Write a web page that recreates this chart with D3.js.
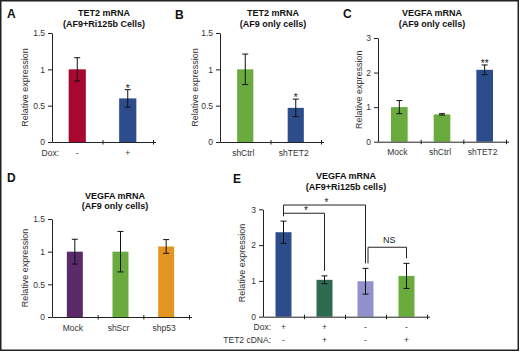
<!DOCTYPE html>
<html>
<head>
<meta charset="utf-8">
<script src="https://cdn.jsdelivr.net/npm/d3@7"></script>
<style>
body { margin: 0; background: #fff; }
svg { display: block; font-family: "Liberation Sans", Arial, sans-serif; }
</style>
</head>
<body>
<div id="chart"></div>
<script>
// ---- data ----
// A: TET2 mRNA (AF9+Ri125b Cells)
var aDox = ["-", "+"];
var aValues = [1.0, 0.60];
var aErrors = [0.16, 0.12];
var aStars = ["", "*"];
var aTicks = [0, 0.5, 1, 1.5];

// B: TET2 mRNA (AF9 only cells)
var bCats = ["shCtrl", "shTET2"];
var bValues = [1.0, 0.47];
var bErrors = [0.21, 0.12];
var bStars = ["", "*"];
var bTicks = [0, 0.5, 1, 1.5];

// C: VEGFA mRNA (AF9 only cells)
var cCats = ["Mock", "shCtrl", "shTET2"];
var cValues = [1.0, 0.79, 2.08];
var cErrors = [0.19, 0.02, 0.14];
var cStars = ["", "", "**"];
var cTicks = [0, 1, 2, 3];

// D: VEGFA mRNA (AF9 only cells)
var dCats = ["Mock", "shScr", "shp53"];
var dValues = [1.0, 1.0, 1.08];
var dErrors = [0.19, 0.31, 0.105];
var dTicks = [0, 0.5, 1, 1.5];

// E: VEGFA mRNA (AF9+Ri125b cells)
var eDox = ["+", "+", "-", "-"];
var eTet2 = ["-", "+", "-", "+"];
var eValues = [2.36, 1.03, 0.99, 1.14];
var eErrors = [0.31, 0.11, 0.36, 0.35];
var eTicks = [0, 1, 2, 3];
// brackets: bar index from/to, level in data units, label
var eBrackets = [
    { from: 0, to: 2, level: 3.12, text: "*" },
    { from: 0, to: 1, level: 2.89, text: "*" },
    { from: 2, to: 3, level: 1.94, text: "NS" }
];

var blue = "#2c4c8b", green = "#6aab3d";

var svg = d3.select("#chart").append("svg")
    .attr("width", 520)
    .attr("height", 352);

svg.append("rect")
    .attr("x", 0.75).attr("y", 0.75)
    .attr("width", 517.5).attr("height", 349.5)
    .attr("fill", "none")
    .attr("stroke", "#222")
    .attr("stroke-width", 1.5);

function drawPanel(p) {
    var g = svg.append("g");
    var n = p.values.length;

    var x = d3.scaleBand()
        .domain(d3.range(n))
        .range([p.left, p.left + p.width])
        .paddingInner(p.pad)
        .paddingOuter(p.pad / 2);

    var y = d3.scaleLinear()
        .domain(p.domain)
        .range([p.bottom, p.top]);

    // bars
    g.selectAll("rect.bar")
        .data(p.values)
        .enter().append("rect")
        .attr("class", "bar")
        .attr("x", function(d, i) { return x(i); })
        .attr("width", x.bandwidth())
        .attr("y", function(d) { return y(d); })
        .attr("height", function(d) { return y(0) - y(d); })
        .attr("fill", function(d, i) { return p.colors[i]; });

    // error bars
    var eb = g.selectAll("g.err")
        .data(p.values)
        .enter().append("g")
        .attr("class", "err")
        .attr("stroke", "#111")
        .attr("stroke-width", 1);
    var cx = function(i) { return x(i) + x.bandwidth() / 2; };
    eb.append("line")
        .attr("x1", function(d, i) { return cx(i); })
        .attr("x2", function(d, i) { return cx(i); })
        .attr("y1", function(d, i) { return y(d - p.errors[i]); })
        .attr("y2", function(d, i) { return y(d + p.errors[i]); });
    [-1, 1].forEach(function(s) {
        eb.append("line")
            .attr("x1", function(d, i) { return cx(i) - 3; })
            .attr("x2", function(d, i) { return cx(i) + 3; })
            .attr("y1", function(d, i) { return y(d + s * p.errors[i]); })
            .attr("y2", function(d, i) { return y(d + s * p.errors[i]); });
    });

    // significance stars
    if (p.stars) {
        g.selectAll("text.star")
            .data(p.stars)
            .enter().append("text")
            .attr("class", "star")
            .attr("x", function(d, i) { return cx(i); })
            .attr("y", function(d, i) { return y(p.values[i] + p.errors[i]) + 2; })
            .attr("text-anchor", "middle")
            .attr("font-size", "10px")
            .attr("fill", "#111")
            .text(function(d) { return d; });
    }

    // y axis
    var yAxis = g.append("g")
        .attr("transform", "translate(" + p.left + ",0)")
        .call(d3.axisLeft(y).tickValues(p.ticks).tickSize(4).tickSizeOuter(0).tickPadding(3)
            .tickFormat(function(d) { return d; }));
    yAxis.attr("font-family", null).attr("font-size", null).attr("color", "#222");
    yAxis.selectAll("text").attr("font-size", "8.5px").attr("fill", "#333");

    // x axis, ticks at band boundaries crossing the line
    var xb = d3.scaleLinear().domain([0, n]).range([p.left, p.left + p.width]);
    var xAxis = g.append("g")
        .attr("transform", "translate(0," + y(0) + ")")
        .call(d3.axisBottom(xb).tickValues(d3.range(1, n + 1)).tickFormat("").tickSize(4).tickSizeOuter(0));
    xAxis.attr("color", "#222");
    xAxis.selectAll(".tick line").attr("y1", -2).attr("y2", 2.5);
    xAxis.select(".domain").attr("d", "M" + (p.left + 0.5) + ",0.5H" + (p.left + p.width + 3));

    // y label
    g.append("text")
        .attr("transform", "translate(" + (p.left - p.yLabelOffset) + "," + ((p.top + p.bottom) / 2) + ") rotate(-90)")
        .attr("text-anchor", "middle")
        .attr("font-size", "9px")
        .attr("fill", "#333")
        .text("Relative expression");

    // category rows
    p.rows.forEach(function(row, r) {
        var ry = y(0) + 13.5 + r * 13;
        if (row.name) {
            g.append("text")
                .attr("x", p.rowNameX)
                .attr("y", ry)
                .attr("text-anchor", "end")
                .attr("font-size", "8.5px")
                .attr("fill", "#333")
                .text(row.name);
        }
        g.selectAll("text.cat" + r)
            .data(row.labels)
            .enter().append("text")
            .attr("class", "cat" + r)
            .attr("x", function(d, i) { return cx(i) + (row.name ? 0 : -2); })
            .attr("y", ry)
            .attr("text-anchor", "middle")
            .attr("font-size", "8.5px")
            .attr("fill", "#333")
            .text(function(d) { return d; });
    });

    // title
    p.title.forEach(function(t, i) {
        g.append("text")
            .attr("x", p.titleX)
            .attr("y", p.titleY + i * 10.5)
            .attr("text-anchor", "middle")
            .attr("font-size", "9px")
            .attr("font-weight", "bold")
            .attr("fill", "#111")
            .text(t);
    });

    // panel letter
    g.append("text")
        .attr("x", p.letterX)
        .attr("y", p.letterY)
        .attr("font-size", "12px")
        .attr("font-weight", "bold")
        .attr("fill", "#111")
        .text(p.letter);

    // brackets
    if (p.brackets) {
        var topOf = function(i) { return y(p.values[i] + p.errors[i]); };
        p.brackets.forEach(function(b) {
            var ly = y(b.level);
            var x1 = cx(b.from) + (b.text === "NS" ? 2.5 : 0);
            var x2 = cx(b.to);
            g.append("path")
                .attr("d", "M" + x1 + "," + (topOf(b.from) - 5) + "V" + ly + "H" + x2 + "V" + (topOf(b.to) - 5))
                .attr("fill", "none")
                .attr("stroke", "#222")
                .attr("stroke-width", 1);
            g.append("text")
                .attr("x", (x1 + x2) / 2 + 2)
                .attr("y", b.text === "NS" ? ly - 4 : ly + 1)
                .attr("text-anchor", "middle")
                .attr("font-size", b.text === "NS" ? "9px" : "10px")
                .attr("fill", "#222")
                .text(b.text);
        });
    }
}

drawPanel({
    letter: "A", letterX: 7, letterY: 18,
    title: ["TET2 mRNA", "(AF9+Ri125b Cells)"], titleX: 104, titleY: 16,
    left: 52, width: 101, top: 33, bottom: 142, pad: 0.66,
    domain: [0, 1.5], ticks: aTicks,
    values: aValues, errors: aErrors, stars: aStars,
    colors: ["#a8082f", blue],
    rows: [{ name: "Dox:", labels: aDox }], rowNameX: 59,
    yLabelOffset: 24
});

drawPanel({
    letter: "B", letterX: 175, letterY: 19,
    title: ["TET2 mRNA", "(AF9 only cells)"], titleX: 273, titleY: 16,
    left: 220, width: 101, top: 33, bottom: 142, pad: 0.68,
    domain: [0, 1.5], ticks: bTicks,
    values: bValues, errors: bErrors, stars: bStars,
    colors: [green, blue],
    rows: [{ name: "", labels: bCats }],
    yLabelOffset: 22
});

drawPanel({
    letter: "C", letterX: 343, letterY: 18,
    title: ["VEGFA mRNA", "(AF9 only cells)"], titleX: 432, titleY: 16,
    left: 378, width: 128, top: 38, bottom: 141.7, pad: 0.61,
    domain: [0, 3], ticks: cTicks,
    values: cValues, errors: cErrors, stars: cStars,
    colors: [green, green, blue],
    rows: [{ name: "", labels: cCats }],
    yLabelOffset: 16
});

drawPanel({
    letter: "D", letterX: 7, letterY: 182,
    title: ["VEGFA mRNA", "(AF9 only cells)"], titleX: 115, titleY: 198.5,
    left: 52, width: 137, top: 219, bottom: 317, pad: 0.65,
    domain: [0, 1.5], ticks: dTicks,
    values: dValues, errors: dErrors,
    colors: ["#5a2a6b", green, "#e3951f"],
    rows: [{ name: "", labels: dCats }],
    yLabelOffset: 24
});

drawPanel({
    letter: "E", letterX: 233, letterY: 183,
    title: ["VEGFA mRNA", "(AF9+Ri125b cells)"], titleX: 346, titleY: 179,
    left: 263, width: 164, top: 209.3, bottom: 316.7, pad: 0.61,
    domain: [0, 3], ticks: eTicks,
    values: eValues, errors: eErrors, brackets: eBrackets,
    colors: [blue, "#2f6b50", "#9391cd", green],
    rows: [{ name: "Dox:", labels: eDox }, { name: "TET2 cDNA:", labels: eTet2 }], rowNameX: 271,
    yLabelOffset: 18
});
</script>
</body>
</html>
